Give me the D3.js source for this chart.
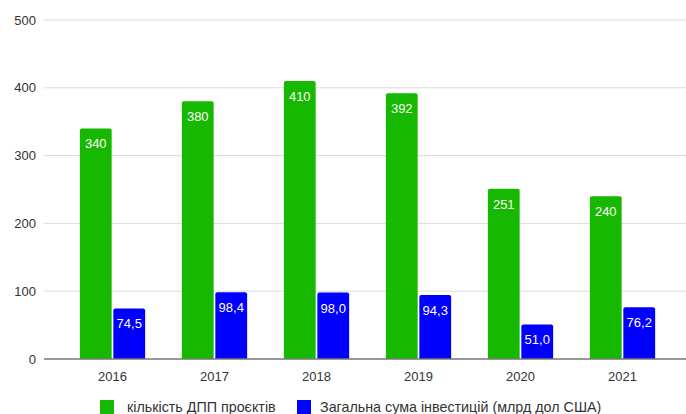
<!DOCTYPE html>
<html><head><meta charset="utf-8">
<script src="https://cdn.jsdelivr.net/npm/d3@7"></script>
<style>body{margin:0;background:#fff}svg{display:block;font-family:"Liberation Sans",Arial,sans-serif}</style>
</head><body>
<svg id="c" width="686" height="414"></svg>
<script>
const years = ["2016","2017","2018","2019","2020","2021"];
const projects = [340, 380, 410, 392, 251, 240];
const investments = [74.5, 98.4, 98.0, 94.3, 51.0, 76.2];
const seriesNames = ["кількість ДПП проєктів", "Загальна сума інвестицій (млрд дол США)"];
const seriesColors = ["#16b900", "#0000ff"];
const yTicks = [0, 100, 200, 300, 400, 500];

const svg = d3.select("#c");
const W = 686;
const y = d3.scaleLinear().domain([0, 500]).range([359, 20]);
const x = d3.scaleBand().domain(years).range([61.5, 673.5]).paddingInner(0.36).paddingOuter(0.18);
const xs = d3.scaleBand().domain([0,1]).range([0, x.bandwidth()]).paddingInner(0.05);

const g = svg.append("g");
g.selectAll("line.grid").data(yTicks.filter(d=>d>0)).join("line")
  .attr("x1", 44).attr("x2", W).attr("y1", d=>y(d)).attr("y2", d=>y(d))
  .attr("stroke", "#dcdcdc").attr("stroke-width", 1);
g.selectAll("text.yt").data(yTicks).join("text")
  .attr("x", 36).attr("y", d=>y(d)).attr("dy", "0.35em").attr("text-anchor","end")
  .attr("font-size", 13).attr("fill", "#333").text(d=>d);

const data = years.map((yr,i)=>({yr, vals:[projects[i], investments[i]]}));
const fmt = [d=>String(d), d=>d.toFixed(1).replace(".", ",")];

const grp = svg.selectAll("g.cat").data(data).join("g").attr("transform", d=>`translate(${x(d.yr)},0)`);
[0,1].forEach(s=>{
  grp.append("path")
    .attr("fill", seriesColors[s])
    .attr("d", d=>{
      const x0 = xs(s), w = xs.bandwidth(), t = y(d.vals[s]), b = y(0), r = 2;
      return `M${x0},${b}V${t+r}Q${x0},${t} ${x0+r},${t}H${x0+w-r}Q${x0+w},${t} ${x0+w},${t+r}V${b}Z`;
    });
  grp.append("text")
    .attr("x", d=>xs(s)+xs.bandwidth()/2).attr("y", d=>y(d.vals[s])+20)
    .attr("text-anchor","middle").attr("font-size", 13).attr("fill","#fff")
    .text(d=>fmt[s](d.vals[s]));
});

svg.append("line").attr("x1",44).attr("x2",W).attr("y1",y(0)).attr("y2",y(0))
  .attr("stroke","#777").attr("stroke-width",1.5);

svg.selectAll("text.xl").data(years).join("text")
  .attr("x", d=>x(d)+x.bandwidth()/2).attr("y", 381).attr("text-anchor","middle")
  .attr("font-size", 13).attr("fill","#333").text(d=>d);

const leg = [{x:100},{x:297}];
leg.forEach((l,i)=>{
  svg.append("rect").attr("x", l.x).attr("y", 400).attr("width", 14).attr("height", 14).attr("fill", seriesColors[i]);
  svg.append("text").attr("x", l.x+(i===0?27:23)).attr("y", 407).attr("dy","0.35em")
    .attr("font-size", 14.3).attr("fill","#333").text(seriesNames[i]);
});
</script>
</body></html>
